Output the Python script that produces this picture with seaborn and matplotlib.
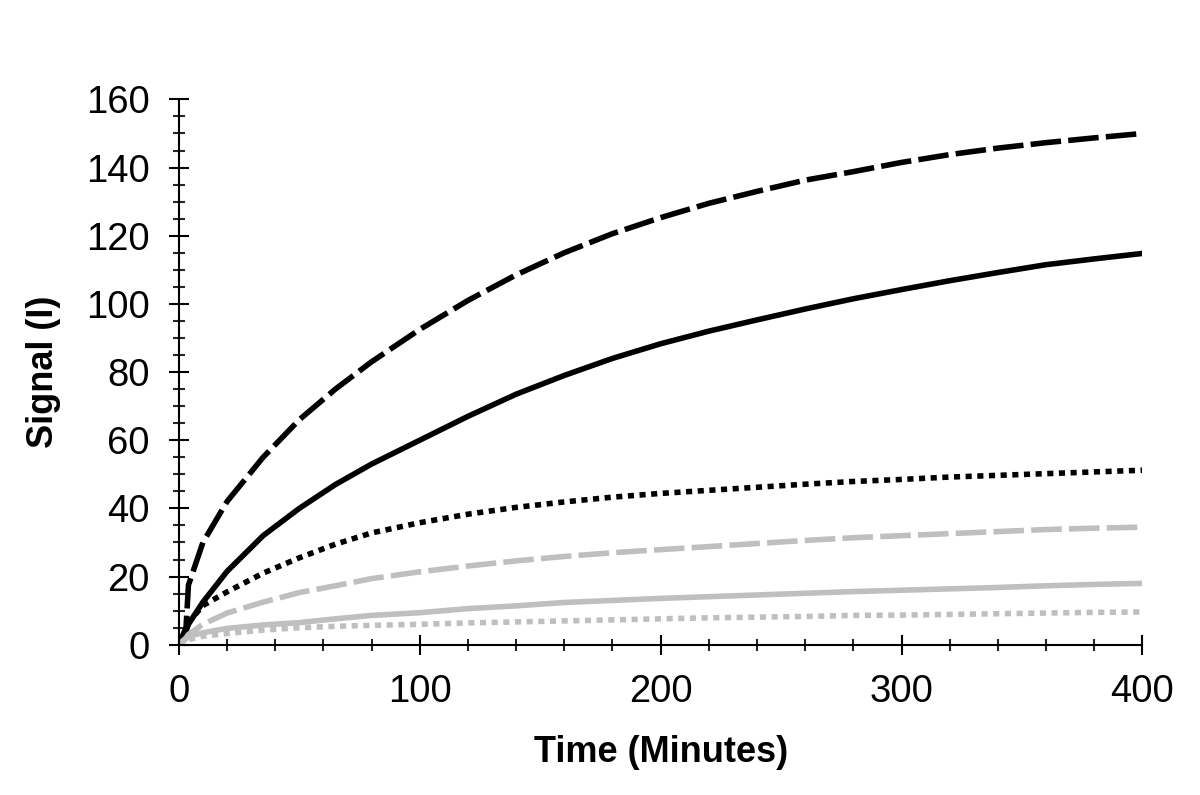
import numpy as np
import pandas as pd
import matplotlib.pyplot as plt
import seaborn as sns
from matplotlib.ticker import MultipleLocator

# values
time = [0, 3, 4, 10, 20, 35, 50, 65, 80, 100, 120, 140, 160, 180, 200,
        220, 240, 260, 280, 300, 320, 340, 360, 380, 400]
black_dash = [0, 5, 17.5, 30, 42, 55, 66, 75, 83, 92.5, 101, 108.5, 115, 120.6, 125.3,
              129.5, 133, 136.3, 138.8, 141.5, 143.8, 145.7, 147.3, 148.7, 150]
black_solid = [0, 4, 6, 12.5, 21.5, 32, 40, 47, 53, 60, 67, 73.5, 79, 84, 88.3,
               92, 95.3, 98.5, 101.5, 104.2, 106.8, 109.2, 111.5, 113.2, 114.8]
black_dot = [0, 4, 6.5, 11.5, 15.5, 21, 25.5, 29.5, 32.8, 35.8, 38.3, 40.3, 41.9, 43.3, 44.4,
             45.3, 46.2, 47.1, 47.9, 48.5, 49.2, 49.7, 50.2, 50.7, 51.2]
gray_dash = [0, 2, 3, 6, 9.3, 12.5, 15.3, 17.3, 19.4, 21.4, 23.1, 24.6, 25.9, 27, 27.9,
             28.8, 29.7, 30.6, 31.4, 32, 32.6, 33.2, 33.8, 34.2, 34.5]
gray_solid = [0, 1.8, 2.5, 3.5, 4.8, 5.8, 6.5, 7.6, 8.6, 9.4, 10.6, 11.4, 12.4, 13, 13.6,
              14.1, 14.6, 15.1, 15.6, 16, 16.4, 16.8, 17.3, 17.7, 18]
gray_dot = [0, 1, 1.5, 2.5, 3.3, 4.3, 5, 5.4, 5.7, 6, 6.4, 6.7, 7, 7.3, 7.6,
            7.9, 8.1, 8.3, 8.6, 8.7, 8.9, 9.1, 9.3, 9.5, 9.6]

series = [
    (black_dash, 'black', (5.5, 1.3)),
    (black_solid, 'black', ''),
    (black_dot, 'black', (1.1, 1.0)),
    (gray_dash, '#bfbfbf', (5.5, 1.3)),
    (gray_solid, '#bfbfbf', ''),
    (gray_dot, '#bfbfbf', (1.1, 1.0)),
]

sns.set_style('ticks')
plt.rcParams['font.family'] = ['Liberation Sans', 'DejaVu Sans']

fig = plt.figure(figsize=(12, 7.95), dpi=100)
ax = fig.add_axes([0.149, 0.189, 0.803, 0.686])

for vals, col, dash in series:
    df = pd.DataFrame({'t': time, 'y': vals})
    sns.lineplot(data=df, x='t', y='y', color=col, linewidth=4, ax=ax)
    l = ax.lines[-1]
    if dash:
        l.set_dashes(dash)
    l.set_dash_capstyle('butt')
    l.set_solid_joinstyle('round')

ax.set_xlim(0, 400)
ax.set_ylim(0, 160)
ax.xaxis.set_major_locator(MultipleLocator(100))
ax.xaxis.set_minor_locator(MultipleLocator(20))
ax.yaxis.set_major_locator(MultipleLocator(20))
ax.yaxis.set_minor_locator(MultipleLocator(5))
ax.tick_params(which='major', direction='inout', length=14, width=1.5,
               labelsize=27.5, colors='black', pad=14)
ax.tick_params(which='minor', direction='inout', length=8, width=1.5)
for s in ['top', 'right']:
    ax.spines[s].set_visible(False)
for s in ['left', 'bottom']:
    ax.spines[s].set_linewidth(1.5)
    ax.spines[s].set_color('black')

ax.set_xlabel('Time (Minutes)', fontsize=26, fontweight='bold', color='black', labelpad=18)
ax.set_ylabel('Signal (I)', fontsize=26, fontweight='bold', color='black', labelpad=18)

plt.savefig('out.png', dpi=100)
